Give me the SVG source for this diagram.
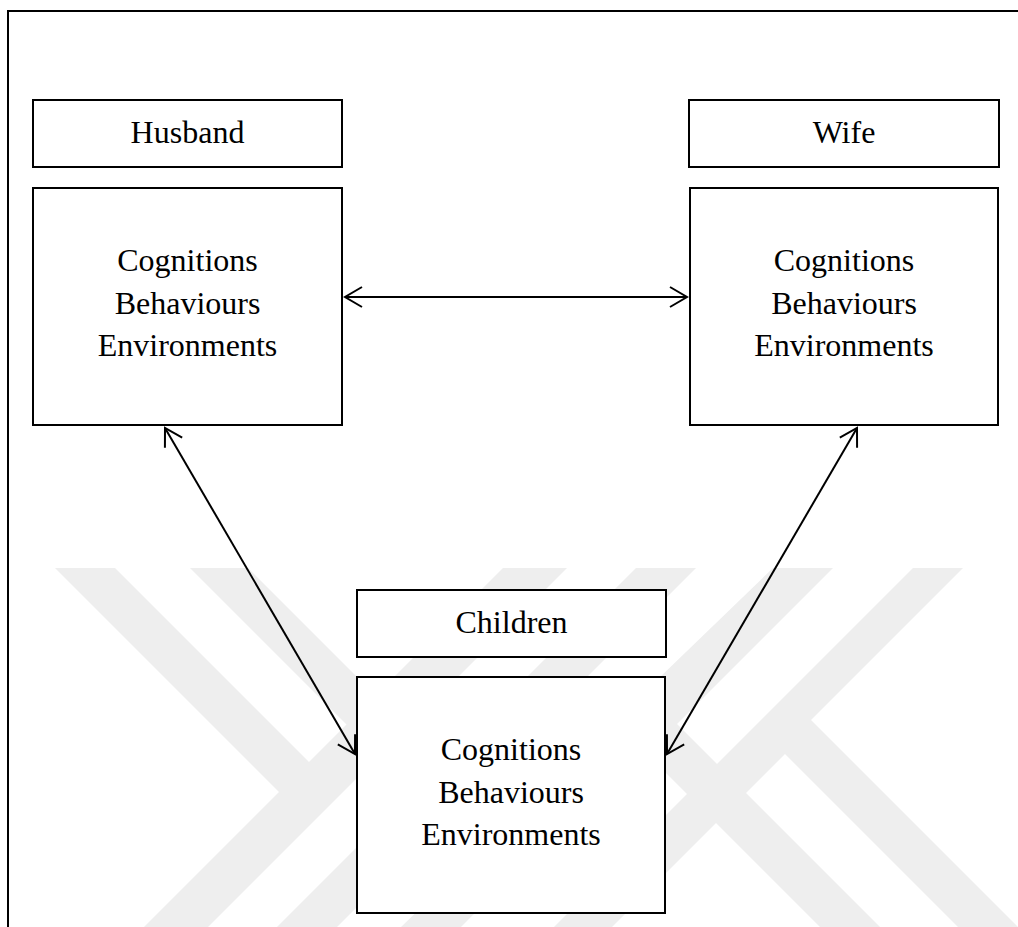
<svg xmlns="http://www.w3.org/2000/svg" width="1018" height="927" viewBox="0 0 1018 927">
<style>
.box{fill:#fff;stroke:#000;stroke-width:2}
.t{font-family:"Liberation Serif","Times New Roman",serif;font-size:32px;fill:#000;text-anchor:middle}
.wm{fill:#eeeeee}
.con{stroke:#000;stroke-width:2;fill:none;marker-start:url(#ah);marker-end:url(#ah)}
</style>
<defs>
<marker id="ah" markerUnits="userSpaceOnUse" viewBox="-2 -2 22 24" markerWidth="22" markerHeight="24" refX="17" refY="10" orient="auto-start-reverse">
<path d="M0,0 L17,10 L0,20" fill="none" stroke="#000" stroke-width="2"/>
</marker>
</defs>
<rect width="1018" height="927" fill="#fff"/>
<g id="watermark">
<polygon class="wm" points="55,568 115,568 309,762 503,568 567,568 208,927 144,927 279,792"/>
<polygon class="wm" points="190,568 248,568 442,762 636,568 696,568 337,927 277,927 413,791"/>
<polygon class="wm" points="773,568 833,568 677,724 880,927 820,927 640,747 461,927 401,927"/>
<polygon class="wm" points="913,568 963,568 811,720 1018,927 1018,927 958,927 785,754 612,927 554,927"/>
</g>
<path id="frame" d="M8,927 V11 H1018" fill="none" stroke="#000" stroke-width="2"/>
<g id="husband-label"><rect class="box" x="33" y="100" width="309" height="67"/><text class="t" x="187.5" y="143">Husband</text></g>
<g id="husband"><rect class="box" x="33" y="188" width="309" height="237"/>
<text class="t" x="187.5" y="271">Cognitions</text><text class="t" x="187.5" y="313.5">Behaviours</text><text class="t" x="187.5" y="356">Environments</text></g>
<g id="wife-label"><rect class="box" x="689" y="100" width="310" height="67"/><text class="t" x="844" y="143">Wife</text></g>
<g id="wife"><rect class="box" x="690" y="188" width="308" height="237"/>
<text class="t" x="844" y="271">Cognitions</text><text class="t" x="844" y="313.5">Behaviours</text><text class="t" x="844" y="356">Environments</text></g>
<g id="children-label"><rect class="box" x="357" y="590" width="309" height="67"/><text class="t" x="511.5" y="633">Children</text></g>
<g id="children"><rect class="box" x="357" y="677" width="308" height="236"/>
<text class="t" x="511" y="760">Cognitions</text><text class="t" x="511" y="802.5">Behaviours</text><text class="t" x="511" y="845">Environments</text></g>
<g id="connectors">
<line class="con" x1="345" y1="297" x2="687" y2="297"/>
<line class="con" x1="165" y1="428" x2="355" y2="754"/>
<line class="con" x1="857" y1="428" x2="667" y2="754"/>
</g>
</svg>
